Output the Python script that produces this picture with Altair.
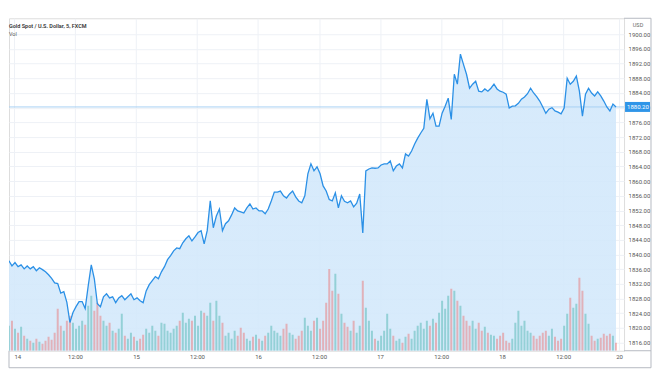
import altair as alt
import pandas as pd
import numpy as np

# Gold spot (USD), sampled every 0.6 h starting 1 h before the "14" tick
prices = [
    1838.3, 1836.9, 1837.8, 1836.7, 1837.2, 1836.1, 1836.9, 1836.1, 1836.7, 1835.6,
    1836.4, 1835.9, 1835.3, 1834.5, 1833.5, 1832.3, 1832.1, 1829.5, 1829.9, 1827.0,
    1821.5, 1824.2, 1825.8, 1827.2, 1827.2, 1825.3, 1831.5, 1837.2, 1833.4, 1826.6,
    1825.8, 1828.5, 1829.3, 1828.2, 1828.5, 1826.9, 1828.2, 1828.8, 1827.7, 1828.5,
    1829.3, 1827.7, 1828.2, 1827.4, 1826.9, 1830.1, 1831.8, 1832.9, 1834.0, 1833.4,
    1835.3, 1836.7, 1838.6, 1839.7, 1841.0, 1841.8, 1841.6, 1843.2, 1844.3, 1845.1,
    1843.7, 1844.8, 1846.0, 1846.5, 1842.9, 1846.5, 1854.6, 1847.3, 1850.5, 1852.4,
    1846.5, 1848.4, 1849.2, 1850.8, 1852.7, 1851.9, 1851.6, 1851.3, 1852.7, 1853.8,
    1852.4, 1852.7, 1851.9, 1851.9, 1851.1, 1852.4, 1854.6, 1857.0, 1857.0, 1857.3,
    1856.0, 1855.4, 1856.5, 1857.3, 1855.7, 1854.6, 1854.1, 1856.0, 1862.0, 1864.7,
    1862.8, 1863.9, 1862.0, 1858.7, 1857.3, 1855.0, 1854.6, 1856.8, 1852.7, 1856.0,
    1854.5, 1854.1, 1854.6, 1853.0, 1854.0, 1856.5, 1845.9, 1862.8, 1863.3, 1863.6,
    1863.5, 1863.6, 1864.4, 1864.7, 1864.7, 1865.5, 1862.8, 1864.1, 1864.7, 1863.6,
    1867.4, 1866.8, 1868.2, 1870.1, 1871.7, 1873.1, 1874.4, 1882.3, 1877.0, 1878.5,
    1875.0, 1875.0, 1878.5, 1880.4, 1882.6, 1876.8, 1889.1, 1886.4, 1894.6, 1891.8,
    1889.1, 1885.3, 1886.4, 1887.2, 1884.5, 1884.3, 1885.1, 1884.5, 1885.3, 1886.4,
    1885.1, 1884.5, 1884.2, 1883.7, 1879.9, 1880.4, 1880.5, 1881.2, 1882.3, 1882.9,
    1883.8, 1885.3, 1884.0, 1883.0, 1881.8, 1880.2, 1878.5, 1879.6, 1880.0, 1879.1,
    1878.8, 1878.3, 1879.9, 1888.0, 1886.4, 1887.2, 1888.6, 1884.5, 1877.7, 1883.7,
    1885.3, 1884.0, 1883.2, 1884.3, 1883.2, 1881.8, 1880.2, 1879.1, 1881.0, 1880.2,
]

# Volume (relative units)
volumes = [
    25, 30, 22, 18, 24, 15, 12,
    10, 8, 12, 9, 7, 10, 14, 11, 18,
    42, 25, 20, 30,
    35, 28, 22, 25, 30, 26,
    45, 55, 40, 48, 35, 30, 25, 28,
    20, 18, 22, 37, 15, 12, 18, 14, 10, 12, 16,
    22, 18, 25, 20, 15, 28, 27, 20, 18, 22, 25, 30, 38,
    28, 32, 30, 35, 25, 40, 38, 35, 48, 30, 50, 35, 28,
    15, 18, 12, 20, 15, 23, 18, 12, 10, 14, 16, 12, 10, 15, 18,
    25, 20, 18, 15, 22, 27, 18, 16, 12, 15, 20,
    33, 25, 20, 30, 33, 22, 30,
    48, 82, 60, 77, 57, 37, 28, 24,
    20, 30, 18, 25, 70,
    43, 30, 20,
    12, 10, 15, 20, 37, 22, 15, 10, 12, 8, 14, 17, 12, 20,
    25, 28, 22, 30, 25, 32, 28,
    38, 50, 42, 55, 62, 60, 50, 45, 35, 30,
    25, 30, 22, 28, 20, 24, 18, 16, 15,
    12, 15, 18, 10, 8, 12,
    28, 40, 25, 30, 20, 18, 15,
    12, 15, 18, 20, 15, 22, 14, 10, 12,
    25, 37, 53, 43, 47, 73, 60, 37, 27, 15,
    10, 12, 13, 17, 15, 17, 15, 8,
]

step_h = 0.6
start_h = -1.0
hours = [round(start_h + step_h * i, 2) for i in range(len(prices))]

tick_hours = [0, 12, 24, 36, 48, 60, 72, 84, 96, 108, 119]
tick_labels = ["14", "12:00", "15", "12:00", "16", "12:00", "17", "12:00", "18", "12:00", "20"]
price_ticks = list(range(1816, 1901, 4))
price_domain = [1813.8, 1904.35]
last_price = prices[-1]

n = min(len(prices), len(volumes))
df = pd.DataFrame({"t": hours[:n], "price": prices[:n], "vol": volumes[:n]})
df["dir"] = np.where(df["price"].diff().fillna(0) >= 0, "up", "down")

W, H = 616, 333
PC = 27  # price column width
FONT = "Roboto"
label_expr = " : ".join(f"datum.value == {v} ? '{l}'" for v, l in zip(tick_hours, tick_labels)) + " : ''"

x_scale = alt.Scale(domain=[0, 119], nice=False, zero=False)
x_axis = alt.Axis(
    values=tick_hours, labelExpr=label_expr, title=None, grid=True, ticks=False,
    domain=False, labelPadding=3, labelFontSize=6, labelColor="#555",
    labelFont=FONT, gridColor="#eef1f6", labelFlush=False,
    labelAlign=alt.condition("datum.value == 0", alt.value("left"), alt.value("center")),
)
x_enc = alt.X("t:Q", scale=x_scale, axis=x_axis)
y_scale = alt.Scale(domain=price_domain, nice=False, zero=False)
y_axis = alt.Axis(
    orient="right", values=price_ticks, format=".2f", title=None, grid=True,
    ticks=False, domain=False, labelPadding=4, labelFontSize=6, labelColor="#555",
    labelFont=FONT, gridColor="#eef1f6",
)
y_enc = alt.Y("price:Q", scale=y_scale, axis=y_axis)
y_noax = alt.Y("price:Q", scale=y_scale, axis=None)

base = alt.Chart(df)

area = base.mark_area(
    clip=True, opacity=0.9,
    color=alt.Gradient(
        gradient="linear",
        stops=[
            alt.GradientStop(color="#d2e8fb", offset=0),
            alt.GradientStop(color="#e9f3fd", offset=0.6),
            alt.GradientStop(color="#fbfdff", offset=1),
        ],
        x1=1, x2=1, y1=0, y2=1,
    ),
).encode(x=x_enc, y=y_enc, y2=alt.value(H))

line = base.mark_line(color="#2b90e6", strokeWidth=1.3, clip=True).encode(x=x_enc, y=y_noax)

one = pd.DataFrame({"a": [0]})
y_last = alt.datum(last_price, type="quantitative", scale=y_scale, axis=None)
last_rule = alt.Chart(one).mark_rule(color="#a8d0f3", strokeWidth=1).encode(y=y_last)

label_box = alt.Chart(one).mark_rect(color="#2f95e8", height=10).encode(
    x=alt.value(W + 1), x2=alt.value(W + PC - 1), y=y_last,
)
label_text = alt.Chart(one).mark_text(color="white", fontSize=6, font=FONT, align="left", baseline="middle").encode(
    x=alt.value(W + 3), y=y_last, text=alt.value(f"{last_price:.2f}"),
)

usd = alt.Chart(one).mark_text(color="#666", fontSize=5.5, font=FONT, align="center").encode(
    x=alt.value(W + 14), y=alt.value(7), text=alt.value("USD"))
title = alt.Chart(one).mark_text(color="#333", fontSize=5.5, font=FONT, fontWeight=600, align="left").encode(
    x=alt.value(0), y=alt.value(8), text=alt.value("Gold Spot / U.S. Dollar, 5, FXCM"))
vol_lbl = alt.Chart(one).mark_text(color="#555", fontSize=5.5, font=FONT, align="left").encode(
    x=alt.value(0), y=alt.value(16), text=alt.value("Vol"))

border = "#b6bac2"
r_right = alt.Chart(one).mark_rule(color=border).encode(x=alt.value(W + PC), y=alt.value(0), y2=alt.value(H + 17))
r_bottom = alt.Chart(one).mark_rule(color=border).encode(y=alt.value(H + 17), x=alt.value(0), x2=alt.value(W + PC))
r_top = alt.Chart(one).mark_rule(color=border).encode(y=alt.value(0), x=alt.value(W), x2=alt.value(W + PC))
r_axis = alt.Chart(one).mark_rule(color=border).encode(y=alt.value(H), x=alt.value(W), x2=alt.value(W + PC))
r_left = alt.Chart(one).mark_rule(color=border).encode(x=alt.value(0), y=alt.value(H), y2=alt.value(H + 17))

vol = base.mark_bar(width=2, opacity=0.38, clip=True).encode(
    x=x_enc,
    y=alt.Y("vol:Q", scale=alt.Scale(domain=[0, H]), axis=None),
    color=alt.Color("dir:N", scale=alt.Scale(domain=["up", "down"], range=["#26a69a", "#ef5350"]), legend=None),
)

back = alt.layer(area)
front = alt.layer(last_rule, line, label_box, label_text, usd, title, vol_lbl,
                  r_right, r_bottom, r_top, r_axis, r_left)

chart = alt.layer(back, vol, front).resolve_scale(y="independent").properties(
    width=W, height=H, padding={"left": 0, "top": 9, "right": 0, "bottom": 2}
).configure_view(stroke=border, strokeWidth=1).configure(background="white")

chart.save("out.html", embed_options={"renderer": "svg", "actions": False})
